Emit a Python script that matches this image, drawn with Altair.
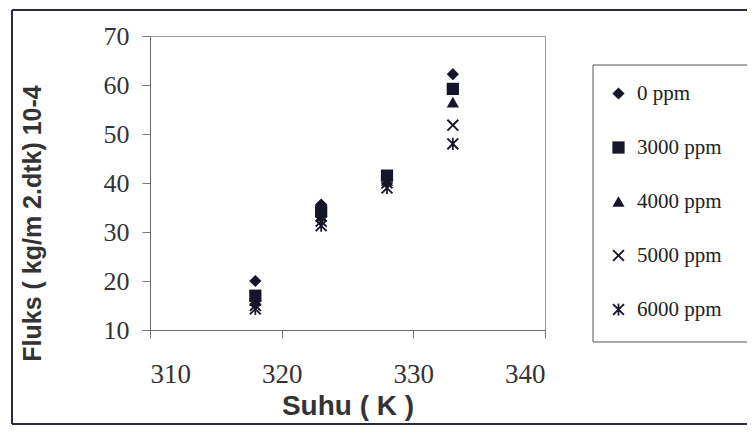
import altair as alt
import pandas as pd

temps = [318, 323, 328, 333]
series_names = ["0 ppm", "3000 ppm", "4000 ppm", "5000 ppm", "6000 ppm"]
ppm0 = [20.0, 35.6, 41.3, 62.2]
ppm3000 = [17.0, 34.2, 41.5, 59.2]
ppm4000 = [16.0, 33.2, 40.5, 56.5]
ppm5000 = [15.0, 32.2, 40.0, 51.8]
ppm6000 = [14.3, 31.3, 39.0, 48.0]

X_PATH = ("M-1,-0.78L-0.78,-1L0,-0.22L0.78,-1L1,-0.78L0.22,0L1,0.78L0.78,1"
          "L0,0.22L-0.78,1L-1,0.78L-0.22,0Z")
AST_PATH = X_PATH + "M-0.14,-1L0.14,-1L0.14,1L-0.14,1Z"

shapes = ["diamond", "square", "triangle-up", X_PATH, AST_PATH]

rows = []
for name, vals in zip(series_names, [ppm0, ppm3000, ppm4000, ppm5000, ppm6000]):
    for t, v in zip(temps, vals):
        rows.append({"Suhu": t, "Fluks": v, "Seri": name})
df = pd.DataFrame(rows)

INK = "#16162a"

points = alt.Chart(df).mark_point(
    filled=True, fill=INK, opacity=1, size=150
).encode(
    x=alt.X(
        "Suhu:Q",
        scale=alt.Scale(domain=[310, 340], nice=False, zero=False),
        axis=alt.Axis(
            values=[310, 320, 330, 340],
            title="Suhu ( K )",
            titleFont="Liberation Sans",
            titleFontWeight="bold",
            titleFontSize=28,
            titleColor="#333333",
            titleBaseline="top",
            titleY=62,
            labelFont="Liberation Serif",
            labelFontSize=27,
            labelColor="#333333",
            labelPadding=23,
            tickSize=8,
            tickColor="#777777",
            domainColor="#666666",
            grid=False,
        ),
    ),
    y=alt.Y(
        "Fluks:Q",
        scale=alt.Scale(domain=[10, 70], nice=False, zero=False),
        axis=alt.Axis(
            values=[10, 20, 30, 40, 50, 60, 70],
            title="Fluks ( kg/m 2.dtk) 10-4",
            titleFont="Liberation Sans",
            titleFontWeight="bold",
            titleFontSize=25,
            titleColor="#333333",
            titleAngle=270,
            titleAlign="center",
            titleBaseline="bottom",
            titleX=-105,
            titleY=187,
            labelFont="Liberation Serif",
            labelFontSize=26,
            labelColor="#333333",
            labelPadding=13,
            tickSize=8,
            tickColor="#777777",
            domainColor="#666666",
            grid=False,
        ),
    ),
    shape=alt.Shape(
        "Seri:N",
        sort=series_names,
        scale=alt.Scale(domain=series_names, range=shapes),
        legend=alt.Legend(
            title=None,
            orient="none",
            legendX=440,
            legendY=29,
            padding=18,
            rowPadding=32,
            labelFont="Liberation Serif",
            labelFontSize=21,
            labelColor="#222222",
            labelOffset=8,
            symbolSize=150,
            symbolFillColor=INK,
            symbolStrokeColor="transparent",
            strokeColor="transparent",
        ),
    ),
)

frame_df = pd.DataFrame({
    "x": [-138, -138, -138],
    "x2": [620, -138, 620],
    "y": [-26, -26, 388],
    "y2": [-26, 388, 388],
})
legend_df = pd.DataFrame({
    "x": [443, 443, 443],
    "x2": [620, 443, 620],
    "y": [29, 29, 306],
    "y2": [29, 306, 306],
})


def frame_rules(data, color, width):
    return alt.Chart(data).mark_rule(color=color, strokeWidth=width).encode(
        x=alt.X("x:Q", scale=None),
        x2="x2:Q",
        y=alt.Y("y:Q", scale=None),
        y2="y2:Q",
    )


outer_frame = frame_rules(frame_df, "#2a2a40", 2)
legend_frame = frame_rules(legend_df, "#555555", 1)

chart = alt.layer(outer_frame, legend_frame, points).resolve_scale(
    x="independent", y="independent"
).properties(
    width=395,
    height=294,
    autosize=alt.AutoSizeParams(type="none"),
    padding={"left": 142, "top": 28, "right": 202, "bottom": 96},
    background="white",
).configure_view(stroke="#999999", strokeWidth=1)

chart.save("out.html", embed_options={"renderer": "svg", "actions": False})
